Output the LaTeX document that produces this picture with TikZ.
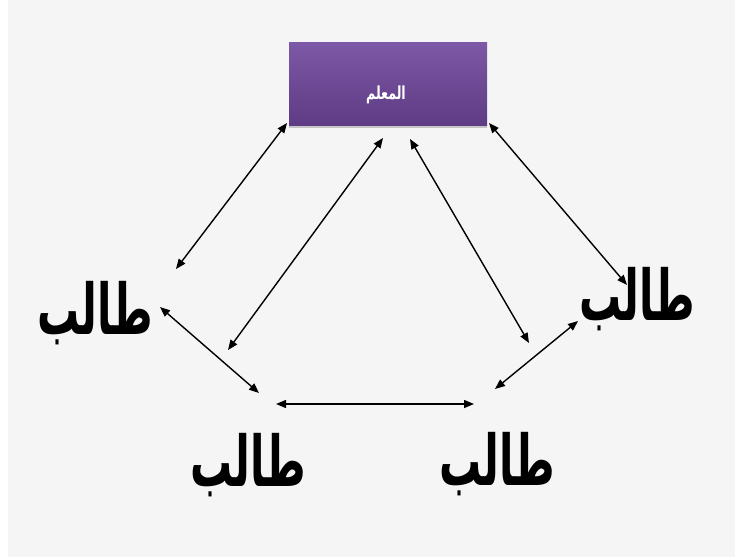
\documentclass[tikz,border=0pt]{standalone}
\usepackage{fontspec}
\usepackage{graphicx}
\usetikzlibrary{arrows.meta,shadows}
\TeXXeTstate=1
\newfontfamily\arabicfont[Script=Arabic]{DejaVu Sans}
\definecolor{pagegray}{HTML}{F5F5F5}
\definecolor{boxtop}{HTML}{7D58A6}
\definecolor{boxbottom}{HTML}{5F3C85}
\newcommand{\tallword}[2]{\scalebox{1.05}[#1]{\beginR #2\endR}}
\tikzset{
  student/.style={font=\arabicfont\bfseries\fontsize{40}{44}\selectfont, inner sep=0pt},
  teacherbox/.style={minimum width=198pt, minimum height=83pt, inner sep=0pt,
    top color=boxtop, bottom color=boxbottom,
    drop shadow={opacity=0.4, shadow xshift=0pt, shadow yshift=-2.5pt}},
  teachertext/.style={text=white, inner sep=0pt, font=\arabicfont\bfseries\fontsize{12}{14}\selectfont},
  link/.style={line width=1.4pt, {Triangle[length=10pt,width=8pt]}-{Triangle[length=10pt,width=8pt]}}
}
\begin{document}
\begin{tikzpicture}[x=1pt,y=-1pt]
  % page and panel
  \useasboundingbox (0,0) rectangle (735,557);
  \fill[white] (0,0) rectangle (735,557);
  \fill[pagegray] (8,0) rectangle (735,557);

  % teacher
  \node[teacherbox] (teacher) at (388,83.5) {};
  \node[teachertext] (teacherlabel) at (386,95) {\tallword{1.5}{المعلم}};

  % students
  \node[student] (sleft)   at (95,313)  {\tallword{1.75}{طالب}};
  \node[student] (sright)  at (637,299) {\tallword{1.75}{طالب}};
  \node[student] (sbleft)  at (248,465) {\tallword{1.75}{طالب}};
  \node[student] (sbright) at (497,464) {\tallword{1.75}{طالب}};

  % connector ends
  \coordinate (a1) at (287,123);  \coordinate (b1) at (176,269);
  \coordinate (a2) at (383,138);  \coordinate (b2) at (228,350);
  \coordinate (a3) at (410,139);  \coordinate (b3) at (529,343);
  \coordinate (a4) at (489,123);  \coordinate (b4) at (627,285);
  \coordinate (a5) at (160,307);  \coordinate (b5) at (259,393);
  \coordinate (a6) at (578,321);  \coordinate (b6) at (495,389);
  \coordinate (a7) at (276,404);  \coordinate (b7) at (474,404);

  % connectors
  \draw[link] (a1) -- (b1);
  \draw[link] (a2) -- (b2);
  \draw[link] (a3) -- (b3);
  \draw[link] (a4) -- (b4);
  \draw[link] (a5) -- (b5);
  \draw[link] (a6) -- (b6);
  \draw[link] (a7) -- (b7);
\end{tikzpicture}
\end{document}
